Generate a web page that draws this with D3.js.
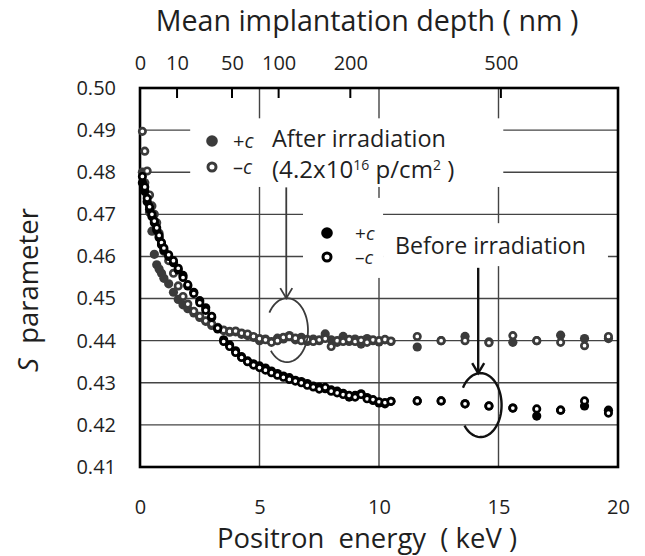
<!DOCTYPE html>
<html>
<head>
<meta charset="utf-8">
<script src="https://cdn.jsdelivr.net/npm/d3@7"></script>
<style>
  body { margin: 0; background: #fff; }
  svg { font-family: "Open Sans", sans-serif; }
  text { white-space: pre; }
</style>
</head>
<body>
<div id="chart"></div>
<script>
// Positron energies (keV), dense scan up to 10.5 keV then coarse steps
const energyDense = [0.1, 0.2, 0.3, 0.4, 0.5, 0.6, 0.7, 0.8, 0.9, 1.0,
  1.2, 1.4, 1.6, 1.8, 2.0,
  2.25, 2.5, 2.75, 3.0, 3.25, 3.5, 3.75, 4.0, 4.25, 4.5,
  4.75, 5.0, 5.25, 5.5, 5.75, 6.0, 6.25, 6.5, 6.75, 7.0,
  7.25, 7.5, 7.75, 8.0, 8.25, 8.5, 8.75, 9.0, 9.25, 9.5,
  9.75, 10.0, 10.25, 10.5];
const energySparse = [11.6, 12.6, 13.6, 14.6, 15.6, 16.6, 17.6, 18.6, 19.6];

// S parameter, after irradiation
const afterPlus = [0.4800, 0.4775, 0.4746, 0.4705, 0.4660, 0.4605, 0.4580, 0.4570, 0.4560, 0.4548,
  0.4535, 0.4515, 0.4498, 0.4485, 0.4476,
  0.4466, 0.4455, 0.4446, 0.4436, 0.4430, 0.4424, 0.4420, 0.4421, 0.4415, 0.4412,
  0.4408, 0.4400, 0.4404, 0.4398, 0.4406, 0.4404, 0.4412, 0.4402, 0.4408, 0.4398,
  0.4404, 0.4400, 0.4416, 0.4402, 0.4396, 0.4410, 0.4398, 0.4404, 0.4392, 0.4405,
  0.4400, 0.4397, 0.4402, 0.4398,
  0.4385, 0.4400, 0.4410, 0.4397, 0.4396, 0.4400, 0.4413, 0.4405, 0.4405];
const afterMinus = [0.4897, 0.4850, 0.4803, 0.4746, 0.4720, 0.4700, 0.4680, 0.4655, 0.4630, 0.4612,
  0.4590, 0.4560, 0.4530, 0.4505, 0.4487,
  0.4470, 0.4458, 0.4447, 0.4440, 0.4432, 0.4425, 0.4422, 0.4423, 0.4418, 0.4416,
  0.4410, 0.4405, 0.4402, 0.4396, 0.4400, 0.4408, 0.4410, 0.4406, 0.4400, 0.4403,
  0.4398, 0.4402, 0.4405, 0.4386, 0.4400, 0.4398, 0.4403, 0.4398, 0.4401, 0.4396,
  0.4402, 0.4400, 0.4403, 0.4399,
  0.4410, 0.4400, 0.4400, 0.4395, 0.4412, 0.4400, 0.4396, 0.4388, 0.4410];

// S parameter, before irradiation
const beforePlus = [0.4775, 0.4755, 0.4730, 0.4712, 0.4695, 0.4680, 0.4663, 0.4645, 0.4628, 0.4615,
  0.4600, 0.4585, 0.4568, 0.4555, 0.4530,
  0.4515, 0.4495, 0.4478, 0.4455, 0.4428, 0.4402, 0.4390, 0.4376, 0.4362, 0.4352,
  0.4345, 0.4340, 0.4335, 0.4328, 0.4322, 0.4316, 0.4312, 0.4306, 0.4303, 0.4298,
  0.4292, 0.4290, 0.4286, 0.4283, 0.4280, 0.4275, 0.4266, 0.4270, 0.4274, 0.4265,
  0.4258, 0.4252, 0.4250, 0.4256,
  0.4257, 0.4257, 0.4250, 0.4245, 0.4240, 0.4221, 0.4235, 0.4245, 0.4235];
const beforeMinus = [0.4790, 0.4765, 0.4738, 0.4718, 0.4700, 0.4684, 0.4668, 0.4650, 0.4633, 0.4620,
  0.4604, 0.4590, 0.4572, 0.4550, 0.4533,
  0.4512, 0.4490, 0.4472, 0.4458, 0.4430, 0.4398, 0.4386, 0.4372, 0.4360, 0.4350,
  0.4342, 0.4336, 0.4330, 0.4324, 0.4318, 0.4313, 0.4308, 0.4304, 0.4300, 0.4294,
  0.4290, 0.4285, 0.4289, 0.4280, 0.4276, 0.4272, 0.4270, 0.4266, 0.4272, 0.4262,
  0.4260, 0.4255, 0.4253, 0.4256,
  0.4257, 0.4257, 0.4250, 0.4245, 0.4240, 0.4238, 0.4235, 0.4257, 0.4228];

// Axis ticks
const yTicks = [0.41, 0.42, 0.43, 0.44, 0.45, 0.46, 0.47, 0.48, 0.49, 0.50];
const xTicks = [0, 5, 10, 15, 20];
const gridX = [5, 10, 15];
// top axis: mean implantation depth (nm) and the energy (keV) it sits at
const depthLabels = ["0", "10", "50", "100", "200", "500"];
const depthEnergy = [0, 1.55, 3.85, 5.8, 8.8, 15.1];

const energies = energyDense.concat(energySparse);

const series = [
  { name: "after +c", values: afterPlus, open: false, color: "#3b3b3b" },
  { name: "after -c", values: afterMinus, open: true, color: "#3b3b3b" },
  { name: "before +c", values: beforePlus, open: false, color: "#000" },
  { name: "before -c", values: beforeMinus, open: true, color: "#000" }
];

const W = 645, H = 556;
const textColor = "#1f1f1f";
const svg = d3.select("#chart").append("svg")
  .attr("width", W)
  .attr("height", H);

const x = d3.scaleLinear().domain([0, 20]).range([140, 618]);
const y = d3.scaleLinear().domain([0.41, 0.50]).range([467, 88]);

// shrink or grow a text so it spans the wanted width
function fitWidth(sel, target) {
  const w = sel.node().getComputedTextLength();
  const fs = parseFloat(sel.attr("font-size"));
  sel.attr("font-size", fs * target / w);
}

// gridlines
const grid = svg.append("g").attr("stroke", "#444").attr("stroke-width", 1.4);
grid.selectAll("line.h")
  .data(yTicks.slice(1, -1))
  .join("line")
  .attr("x1", x(0)).attr("x2", x(20))
  .attr("y1", d => y(d)).attr("y2", d => y(d));
grid.selectAll("line.v")
  .data(gridX)
  .join("line")
  .attr("x1", d => x(d)).attr("x2", d => x(d))
  .attr("y1", y(0.50)).attr("y2", y(0.41));

// white boxes behind the legends and labels (they cut the gridlines)
const boxes = [
  { e0: 2.1, e1: 15.2, s0: 0.4765, s1: 0.4928 },
  { e0: 6.82, e1: 10.17, s0: 0.4549, s1: 0.4739 },
  { e0: 10.17, e1: 19.58, s0: 0.4577, s1: 0.4679 }
];
svg.append("g").selectAll("rect")
  .data(boxes)
  .join("rect")
  .attr("x", d => x(d.e0))
  .attr("y", d => y(d.s1))
  .attr("width", d => x(d.e1) - x(d.e0))
  .attr("height", d => y(d.s0) - y(d.s1))
  .attr("fill", "#fff");

// depth ticks hanging from the top frame
svg.append("g").selectAll("line")
  .data(depthEnergy.slice(1))
  .join("line")
  .attr("x1", d => x(d)).attr("x2", d => x(d))
  .attr("y1", y(0.50)).attr("y2", y(0.50) + 10)
  .attr("stroke", "#000").attr("stroke-width", 2);

// frame
svg.append("rect")
  .attr("x", x(0)).attr("y", y(0.50))
  .attr("width", x(20) - x(0)).attr("height", y(0.41) - y(0.50))
  .attr("fill", "none")
  .attr("stroke", "#000")
  .attr("stroke-width", 2.6);

// axes (labels only)
const yAxis = svg.append("g")
  .attr("transform", `translate(${x(0)},0)`)
  .call(d3.axisLeft(y).tickValues(yTicks).tickFormat(d3.format(".2f")).tickSize(0).tickPadding(24));
const xAxis = svg.append("g")
  .attr("transform", `translate(0,${y(0.41)})`)
  .call(d3.axisBottom(x).tickValues(xTicks).tickSize(0).tickPadding(33));
const topAxis = svg.append("g")
  .attr("transform", `translate(0,${y(0.50)})`)
  .call(d3.axisTop(x).tickValues(depthEnergy).tickFormat((d, i) => depthLabels[i]).tickSize(0).tickPadding(18));
[yAxis, xAxis, topAxis].forEach(a => {
  a.select(".domain").remove();
  a.selectAll("text")
    .attr("font-family", "Open Sans, sans-serif")
    .attr("font-size", 20)
    .attr("fill", textColor);
});

// data points
const pts = svg.append("g");
series.forEach(s => {
  pts.append("g")
    .selectAll("circle")
    .data(s.values.map((v, i) => ({ e: energies[i], s: v })))
    .join("circle")
    .attr("cx", d => x(d.e))
    .attr("cy", d => y(d.s))
    .attr("r", s.open ? 3.2 : 4.6)
    .attr("fill", s.open ? "#fff" : s.color)
    .attr("stroke", s.open ? s.color : "none")
    .attr("stroke-width", 2.7);
});

// arrows and open ellipses marking each group
const marks = [
  { e: 6.12, top: 0.4764, cx: 6.15, cy: 0.4425, color: "#3b3b3b", w: 1.8 },
  { e: 14.15, top: 0.4573, cx: 14.25, cy: 0.4247, color: "#111", w: 2.4 }
];
const rx = 21, ry = 32;
const a0 = 213 * Math.PI / 180, a1 = (360 + 140) * Math.PI / 180;
marks.forEach(m => {
  const cx = x(m.cx), cy = y(m.cy);
  const tipY = cy - ry;
  const ax = x(m.e);
  svg.append("line")
    .attr("x1", ax).attr("x2", ax)
    .attr("y1", y(m.top)).attr("y2", tipY)
    .attr("stroke", m.color).attr("stroke-width", m.w);
  svg.append("path")
    .attr("d", `M${ax - 6},${tipY - 10} L${ax},${tipY} L${ax + 6},${tipY - 10}`)
    .attr("fill", "none")
    .attr("stroke", m.color).attr("stroke-width", m.w);
  const arc = d3.range(0, 61).map(i => {
    const a = a0 + (a1 - a0) * i / 60;
    return [cx + rx * Math.cos(a), cy + ry * Math.sin(a)];
  });
  svg.append("path")
    .attr("d", d3.line()(arc))
    .attr("fill", "none")
    .attr("stroke", m.color).attr("stroke-width", m.w);
});

// legends
function legendPair(lx, ly1, ly2, color, tx, fs) {
  svg.append("circle").attr("cx", lx).attr("cy", ly1).attr("r", 5.8).attr("fill", color);
  svg.append("circle").attr("cx", lx).attr("cy", ly2).attr("r", 4).attr("fill", "#fff")
    .attr("stroke", color).attr("stroke-width", 3);
  const t1 = svg.append("text").attr("x", tx).attr("y", ly1 + 7).attr("font-size", fs).attr("fill", textColor);
  t1.append("tspan").text("+");
  t1.append("tspan").attr("font-style", "italic").text("c");
  const t2 = svg.append("text").attr("x", tx).attr("y", ly2 + 7).attr("font-size", fs).attr("fill", textColor);
  t2.append("tspan").text("\u2013");
  t2.append("tspan").attr("font-style", "italic").text("c");
}
legendPair(212, 141, 167, "#3b3b3b", 233, 20);
legendPair(327, 233, 257, "#000", 355, 19);

const after1 = svg.append("text").attr("x", 272).attr("y", 147)
  .attr("font-size", 22).attr("fill", textColor).text("After irradiation");
fitWidth(after1, 174);
const after2 = svg.append("text").attr("x", 272).attr("y", 178)
  .attr("font-size", 21).attr("fill", textColor);
after2.append("tspan").text("(4.2x10");
after2.append("tspan").attr("dy", -8).attr("font-size", 14).text("16");
after2.append("tspan").attr("dy", 8).text(" p/cm");
after2.append("tspan").attr("dy", -8).attr("font-size", 14).text("2");
after2.append("tspan").attr("dy", 8).text(" )");
fitWidth(after2, 186);
const before1 = svg.append("text").attr("x", 395).attr("y", 254)
  .attr("font-size", 22).attr("fill", textColor).text("Before irradiation");
fitWidth(before1, 191);

// axis titles
const topTitle = svg.append("text").attr("x", 367).attr("y", 31)
  .attr("text-anchor", "middle").attr("font-size", 26).attr("fill", textColor)
  .text("Mean implantation depth ( nm )");
fitWidth(topTitle, 423);
const xTitle = svg.append("text").attr("x", 367).attr("y", 548)
  .attr("text-anchor", "middle").attr("font-size", 24).attr("fill", textColor)
  .text("Positron  energy  ( keV )");
fitWidth(xTitle, 300);
const yTitle = svg.append("text")
  .attr("transform", "translate(38,290) rotate(-90)")
  .attr("text-anchor", "middle").attr("font-size", 24).attr("fill", textColor);
yTitle.append("tspan").attr("font-style", "italic").text("S");
yTitle.append("tspan").text("  parameter");
fitWidth(yTitle, 164);
</script>
</body>
</html>
